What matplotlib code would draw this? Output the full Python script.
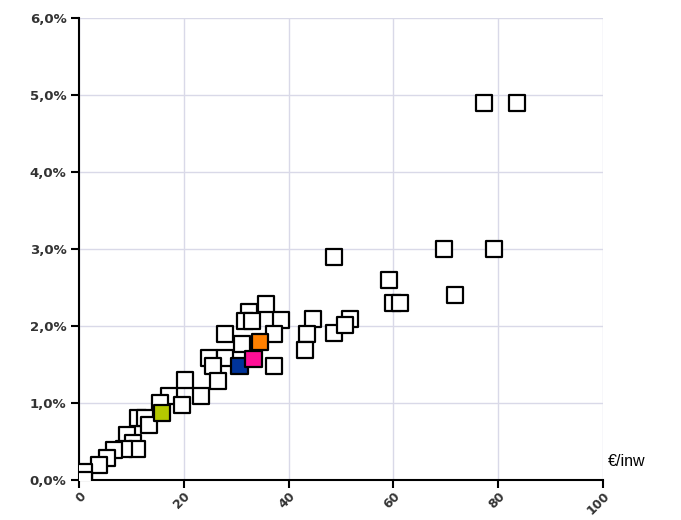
import matplotlib
matplotlib.use("Agg")
import matplotlib.pyplot as plt
from matplotlib.ticker import FuncFormatter

# White (other) points: x = €/inw, y = percent
other_x = [77.3, 83.5, 69.6, 79.2, 48.6, 59.2, 60.0, 61.2, 71.8,
           35.6, 32.5, 31.7, 33.0, 38.6, 27.9, 37.2, 31.1, 24.9, 27.9, 37.2,
           44.6, 43.5, 43.2, 48.6, 51.7, 50.8, 25.6, 26.5, 20.3,
           23.3, 17.1, 19.6, 15.5, 11.2, 12.6, 13.3, 9.1, 10.4, 11.0, 8.6,
           6.6, 5.3, 3.9, 0.9, 0.9]
other_y = [4.9, 4.9, 3.0, 3.0, 2.9, 2.6, 2.3, 2.3, 2.4,
           2.29, 2.18, 2.07, 2.07, 2.08, 1.9, 1.9, 1.77, 1.58, 1.58, 1.48,
           2.09, 1.9, 1.69, 1.91, 2.09, 2.01, 1.48, 1.29, 1.30,
           1.09, 1.09, 0.98, 1.0, 0.8, 0.8, 0.71, 0.59, 0.48, 0.4, 0.4,
           0.39, 0.29, 0.2, 0.11, 0.0]

# Highlighted points
hl_x = [15.8, 30.6, 33.3, 34.5]
hl_y = [0.87, 1.48, 1.57, 1.79]
hl_colors = ['#b4c800', '#003399', '#ff0f96', '#ff8000']

x_ticks = [0, 20, 40, 60, 80, 100]
y_ticks = [0, 1, 2, 3, 4, 5, 6]

fig = plt.figure(figsize=(6.81, 5.2), dpi=100)
ax = fig.add_axes([79/681, 1-480/520, (603-79)/681, (480-18.3)/520])

ax.scatter(other_x, other_y, marker='s', s=140, facecolor='white',
           edgecolor='black', linewidths=1.6, zorder=3)
ax.scatter(hl_x, hl_y, marker='s', s=140, c=hl_colors,
           edgecolor='black', linewidths=1.6, zorder=4)

ax.set_xlim(0, 100)
ax.set_ylim(0, 6)
ax.set_xticks(x_ticks)
ax.set_yticks(y_ticks)
ax.yaxis.set_major_formatter(FuncFormatter(lambda v, p: f"{v:.1f}".replace('.', ',') + '%'))
ax.set_axisbelow(True)
ax.grid(True, color='#d9d9e8', linewidth=1.0)

for s in ['top', 'right']:
    ax.spines[s].set_visible(False)
for s in ['left', 'bottom']:
    ax.spines[s].set_linewidth(1.5)
    ax.spines[s].set_color('black')

ax.tick_params(axis='both', direction='out', length=6, width=1.5, color='black',
               labelsize=9.5, labelcolor='#333333')
ax.tick_params(axis='y', pad=3)
ax.tick_params(axis='x', pad=1, labelsize=9)
for lbl in ax.get_yticklabels() + ax.get_xticklabels():
    lbl.set_fontweight('bold')
for lbl in ax.get_xticklabels():
    lbl.set_rotation(45)
    lbl.set_ha('right')
    lbl.set_va('top')
    lbl.set_rotation_mode('anchor')

fig.text(608/681, 1-462/520, '€/inw', fontsize=11.5, va='center', ha='left',
         family='Liberation Sans', color='black')

fig.savefig('out.png', dpi=100)
